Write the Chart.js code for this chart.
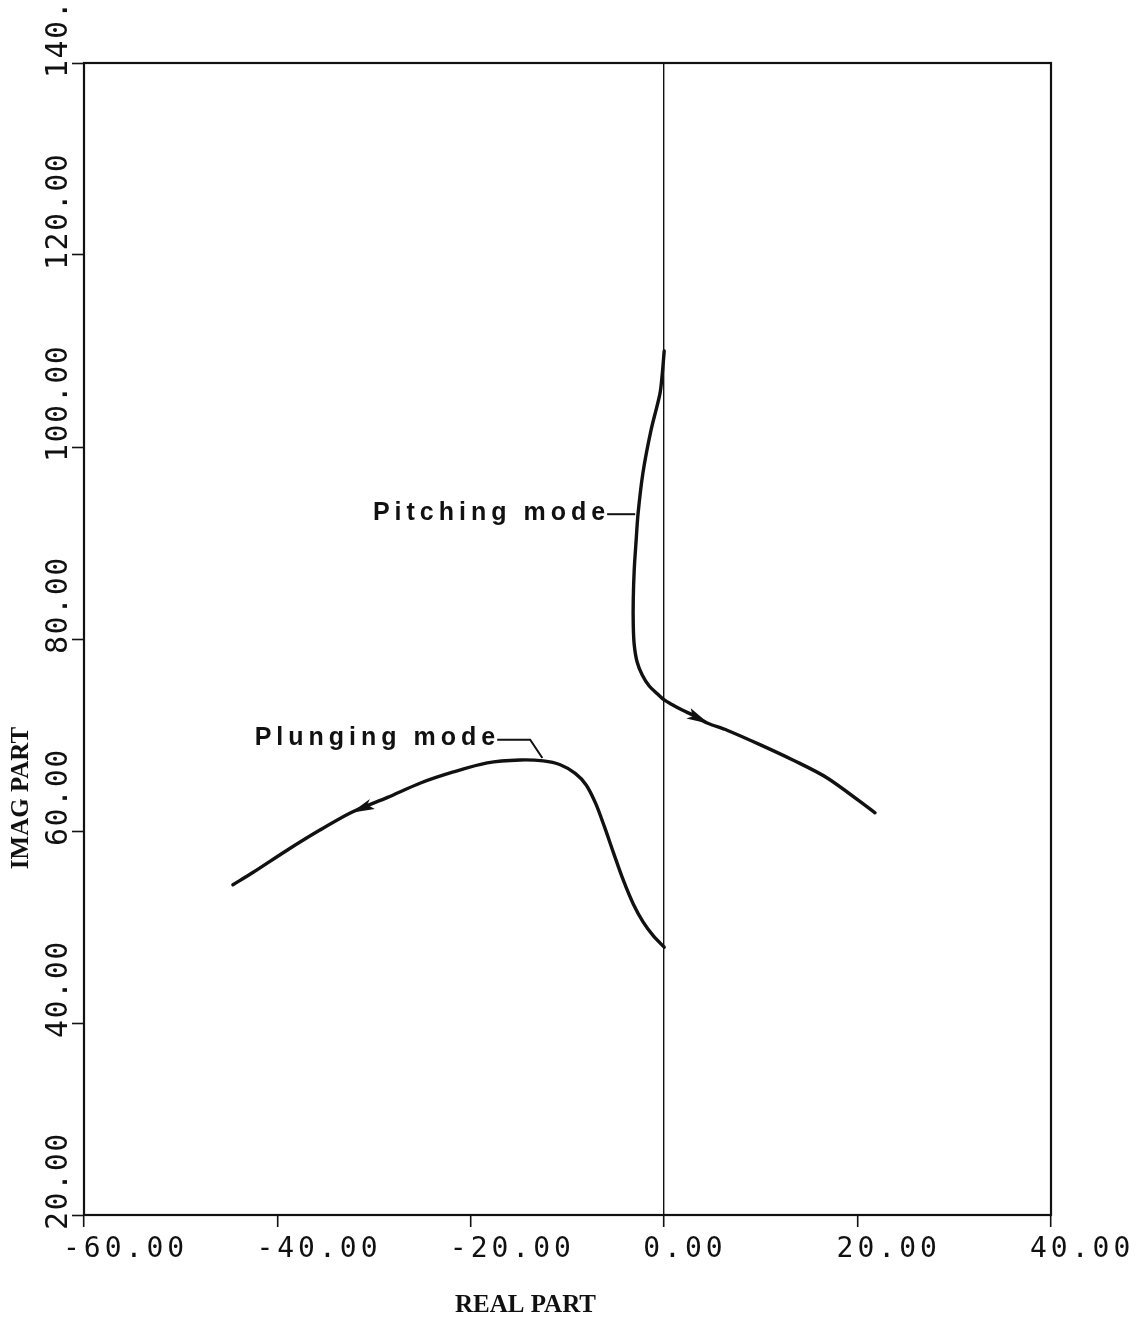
<!DOCTYPE html>
<html>
<head>
<meta charset="utf-8">
<script src="https://cdn.jsdelivr.net/npm/chart.js@4/dist/chart.umd.min.js"></script>
<style>
  html, body { margin: 0; padding: 0; background: #fff; }
  #wrap { width: 1143px; height: 1319px; position: relative; }
</style>
</head>
<body>
<div id="wrap"><canvas id="c"></canvas></div>
<script>
// Axis ticks and their printed labels
const xTicks = [-60, -40, -20, 0, 20, 40];
const xTickLabels = ['-60.00', '-40.00', '-20.00', '0.00', '20.00', '40.00'];
const yTicks = [20, 40, 60, 80, 100, 120, 140];
const yTickLabels = ['20.00', '40.00', '60.00', '80.00', '100.00', '120.00', '140.00'];

// Root locus of the pitching mode (real part, imaginary part), in order of travel
const pitchingRe = [0, -0.2, -0.45, -1.35, -2.2, -2.7, -2.9, -3.1, -3.2, -3.2, -3.1, -2.8, -2.27, -1.55, -0.72, 0, 0.93, 1.86, 3.1, 4.45, 6.5, 9.9, 13.3, 16.9, 21.8];
const pitchingIm = [110, 107.6, 105.5, 101.8, 97.3, 93.1, 90.3, 87.2, 84.1, 81.5, 79.4, 77.6, 76.25, 75.1, 74.3, 73.65, 73.1, 72.6, 72.0, 71.25, 70.5, 69.0, 67.4, 65.5, 61.9];

// Root locus of the plunging mode, in order of travel
const plungingRe = [0, -1.14, -2.17, -3.2, -4.24, -5.27, -6.2, -7.1, -8.07, -9.2, -10.75, -12.5, -14.9, -18.3, -21.8, -25.2, -28.6, -32.2, -35.6, -39.0, -42.5, -44.6];
const plungingIm = [47.9, 49.1, 50.5, 52.4, 54.9, 57.8, 60.5, 62.9, 64.8, 66.0, 66.9, 67.3, 67.4, 67.1, 66.15, 65.0, 63.5, 62.0, 60.1, 58.0, 55.7, 54.4];

// Index of the point on each locus that carries the direction arrow
const pitchingArrowIdx = 19;
const plungingArrowIdx = 17;

const toPoints = (re, im) => re.map((r, i) => ({ x: r, y: im[i] }));

const INK = '#111';

function drawArrow(ctx, meta, idx) {
  const p = meta.data[idx], a = meta.data[idx - 1], b = meta.data[idx + 1];
  const ang = Math.atan2(b.y - a.y, b.x - a.x);
  const len = 21, half = 7;
  ctx.save();
  ctx.translate(p.x, p.y);
  ctx.rotate(ang);
  ctx.beginPath();
  ctx.moveTo(2, 0);
  ctx.lineTo(-len, -half);
  ctx.lineTo(-len + 5, 0);
  ctx.lineTo(-len, half * 0.6);
  ctx.closePath();
  ctx.fillStyle = INK;
  ctx.fill();
  ctx.restore();
}

const decor = {
  id: 'decor',
  afterDatasetsDraw(chart) {
    const { ctx, chartArea: a, scales: { x, y } } = chart;
    ctx.save();

    // frame around the plotting area
    ctx.strokeStyle = INK;
    ctx.lineWidth = 2.2;
    ctx.strokeRect(a.left, a.top, a.right - a.left, a.bottom - a.top);

    // direction arrows on the loci
    drawArrow(ctx, chart.getDatasetMeta(0), pitchingArrowIdx);
    drawArrow(ctx, chart.getDatasetMeta(1), plungingArrowIdx);

    // tick labels, bottom axis
    ctx.fillStyle = INK;
    ctx.font = '28px "DejaVu Sans Mono"';
    ctx.letterSpacing = '4px';
    ctx.textAlign = 'left';
    ctx.textBaseline = 'alphabetic';
    xTicks.forEach((v, i) => {
      ctx.fillText(xTickLabels[i], x.getPixelForValue(v) - 21, a.bottom + 42);
    });

    // tick labels, left axis (reading upward)
    ctx.font = '30px "DejaVu Sans Mono"';
    ctx.letterSpacing = '1.5px';
    yTicks.forEach((v, i) => {
      ctx.save();
      ctx.translate(a.left - 17, y.getPixelForValue(v) + 15);
      ctx.rotate(-Math.PI / 2);
      ctx.fillText(yTickLabels[i], 0, 0);
      ctx.restore();
    });

    // axis titles
    ctx.letterSpacing = '0px';
    ctx.font = 'bold 25px "Liberation Serif"';
    ctx.textAlign = 'center';
    ctx.fillText('REAL PART', (a.left + a.right) / 2 - 42, a.bottom + 97);
    ctx.save();
    ctx.translate(28, 798);
    ctx.rotate(-Math.PI / 2);
    ctx.fillText('IMAG PART', 0, 0);
    ctx.restore();

    // mode labels with leader lines
    ctx.lineWidth = 2;
    ctx.strokeStyle = INK;
    ctx.font = 'bold 25px "Liberation Sans"';
    ctx.letterSpacing = '5px';
    ctx.textAlign = 'right';

    const p1 = [x.getPixelForValue(-5.9), y.getPixelForValue(93.0)];
    const p2 = [x.getPixelForValue(-3.0), y.getPixelForValue(93.0)];
    ctx.beginPath();
    ctx.moveTo(p1[0], p1[1]);
    ctx.lineTo(p2[0], p2[1]);
    ctx.stroke();
    ctx.fillText('Pitching mode', p1[0] + 3, p1[1] + 6);

    const q1 = [x.getPixelForValue(-17.27), y.getPixelForValue(69.5)];
    const q2 = [x.getPixelForValue(-13.86), y.getPixelForValue(69.5)];
    const q3 = [x.getPixelForValue(-12.6), y.getPixelForValue(67.6)];
    ctx.beginPath();
    ctx.moveTo(q1[0], q1[1]);
    ctx.lineTo(q2[0], q2[1]);
    ctx.lineTo(q3[0], q3[1]);
    ctx.stroke();
    ctx.fillText('Plunging mode', q1[0] + 3, q1[1] + 5);

    ctx.restore();
  }
};

const lineStyle = {
  showLine: true,
  borderColor: INK,
  borderWidth: 3.4,
  pointRadius: 0,
  pointHoverRadius: 0,
  tension: 0.3,
  fill: false,
  borderCapStyle: 'round',
  borderJoinStyle: 'round'
};

new Chart(document.getElementById('c'), {
  type: 'scatter',
  data: {
    datasets: [
      Object.assign({ label: 'Pitching mode', data: toPoints(pitchingRe, pitchingIm) }, lineStyle),
      Object.assign({ label: 'Plunging mode', data: toPoints(plungingRe, plungingIm) }, lineStyle)
    ]
  },
  options: {
    responsive: true,
    maintainAspectRatio: false,
    animation: false,
    events: [],
    layout: { padding: { top: 63, right: 92, left: 0, bottom: 0 } },
    plugins: { legend: { display: false }, tooltip: { enabled: false } },
    scales: {
      x: {
        type: 'linear',
        min: -60,
        max: 40,
        afterBuildTicks: s => { s.ticks = xTicks.map(v => ({ value: v })); },
        afterFit: s => { s.height = 104; },
        ticks: { display: false },
        grid: {
          drawOnChartArea: true,
          color: c => (c.tick && c.tick.value === 0 ? INK : 'rgba(0,0,0,0)'),
          lineWidth: 1.4,
          tickColor: INK,
          tickWidth: 1.6,
          tickLength: 12
        },
        border: { display: true, color: INK, width: 2 }
      },
      y: {
        type: 'linear',
        min: 20,
        max: 140,
        afterBuildTicks: s => { s.ticks = yTicks.map(v => ({ value: v })); },
        afterFit: s => { s.width = 84; },
        ticks: { display: false },
        grid: {
          drawOnChartArea: false,
          color: 'rgba(0,0,0,0)',
          tickColor: INK,
          tickWidth: 1.6,
          tickLength: 12
        },
        border: { display: true, color: INK, width: 2 }
      }
    }
  },
  plugins: [decor]
});
</script>
</body>
</html>
